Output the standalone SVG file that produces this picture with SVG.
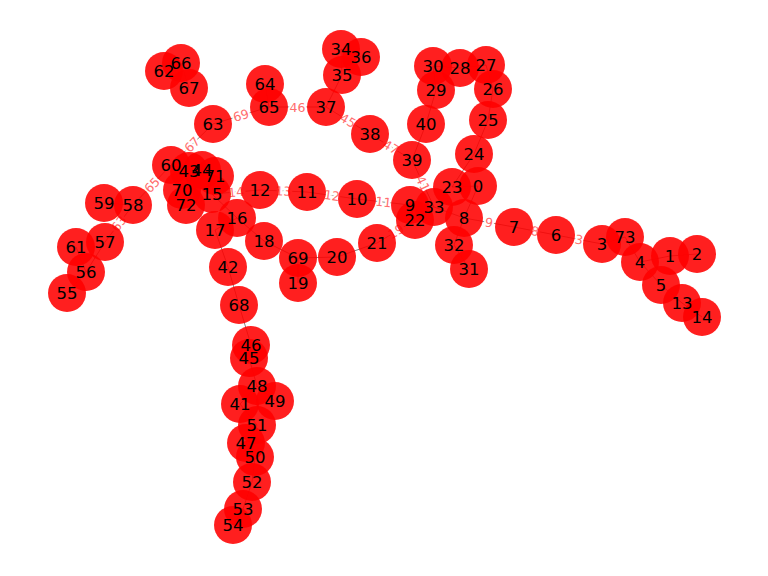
<svg xmlns="http://www.w3.org/2000/svg" width="768" height="576" viewBox="0 0 768 576">
<style>
.e{stroke:#000;stroke-opacity:0.5;stroke-width:1;fill:none}
.el{font-family:"DejaVu Sans",sans-serif;font-size:12.5px;fill:#ff6e6e;text-anchor:middle;dominant-baseline:central;stroke:#fff;stroke-width:4;paint-order:stroke}
.n circle{fill:#ff0000;fill-opacity:0.88}
.nl text{font-family:"DejaVu Sans",sans-serif;font-size:16.5px;fill:#000;text-anchor:middle;dominant-baseline:central}
</style>
<rect width="768" height="576" fill="#fff"/>
<g id="edges">
<line class="e" x1="702" y1="317" x2="682" y2="303"/>
<line class="e" x1="682" y1="303" x2="661" y2="285"/>
<line class="e" x1="661" y1="285" x2="640" y2="262"/>
<line class="e" x1="640" y1="262" x2="670" y2="256"/>
<line class="e" x1="670" y1="256" x2="697" y2="254"/>
<line class="e" x1="640" y1="262" x2="625" y2="237"/>
<line class="e" x1="625" y1="237" x2="602" y2="244"/>
<line class="e" x1="602" y1="244" x2="556" y2="235"/>
<line class="e" x1="556" y1="235" x2="514" y2="227"/>
<line class="e" x1="514" y1="227" x2="464" y2="218"/>
<line class="e" x1="464" y1="218" x2="434" y2="207"/>
<line class="e" x1="464" y1="218" x2="454" y2="245"/>
<line class="e" x1="454" y1="245" x2="469" y2="269"/>
<line class="e" x1="464" y1="218" x2="478" y2="186"/>
<line class="e" x1="478" y1="186" x2="452" y2="187"/>
<line class="e" x1="452" y1="187" x2="474" y2="154"/>
<line class="e" x1="474" y1="154" x2="488" y2="120"/>
<line class="e" x1="488" y1="120" x2="493" y2="89"/>
<line class="e" x1="493" y1="89" x2="486" y2="65"/>
<line class="e" x1="486" y1="65" x2="460" y2="68"/>
<line class="e" x1="460" y1="68" x2="433" y2="66"/>
<line class="e" x1="433" y1="66" x2="436" y2="90"/>
<line class="e" x1="436" y1="90" x2="426" y2="124"/>
<line class="e" x1="426" y1="124" x2="412" y2="160"/>
<line class="e" x1="412" y1="160" x2="434" y2="207"/>
<line class="e" x1="412" y1="160" x2="370" y2="134"/>
<line class="e" x1="370" y1="134" x2="326" y2="107"/>
<line class="e" x1="326" y1="107" x2="342" y2="75"/>
<line class="e" x1="342" y1="75" x2="341" y2="49"/>
<line class="e" x1="341" y1="49" x2="361" y2="57"/>
<line class="e" x1="326" y1="107" x2="269" y2="107"/>
<line class="e" x1="269" y1="107" x2="265" y2="84"/>
<line class="e" x1="269" y1="107" x2="213" y2="124"/>
<line class="e" x1="189" y1="88" x2="181" y2="63"/>
<line class="e" x1="181" y1="63" x2="164" y2="71"/>
<line class="e" x1="213" y1="124" x2="171" y2="165"/>
<line class="e" x1="171" y1="165" x2="189" y2="171"/>
<line class="e" x1="189" y1="171" x2="202" y2="170"/>
<line class="e" x1="202" y1="170" x2="215" y2="176"/>
<line class="e" x1="215" y1="176" x2="212" y2="194"/>
<line class="e" x1="171" y1="165" x2="133" y2="205"/>
<line class="e" x1="171" y1="165" x2="182" y2="190"/>
<line class="e" x1="182" y1="190" x2="186" y2="205"/>
<line class="e" x1="133" y1="205" x2="104" y2="203"/>
<line class="e" x1="133" y1="205" x2="105" y2="242"/>
<line class="e" x1="105" y1="242" x2="86" y2="272"/>
<line class="e" x1="86" y1="272" x2="76" y2="247"/>
<line class="e" x1="86" y1="272" x2="67" y2="293"/>
<line class="e" x1="212" y1="194" x2="260" y2="190"/>
<line class="e" x1="260" y1="190" x2="307" y2="192"/>
<line class="e" x1="307" y1="192" x2="357" y2="199"/>
<line class="e" x1="357" y1="199" x2="410" y2="205"/>
<line class="e" x1="410" y1="205" x2="434" y2="207"/>
<line class="e" x1="410" y1="205" x2="415" y2="220"/>
<line class="e" x1="415" y1="220" x2="377" y2="243"/>
<line class="e" x1="377" y1="243" x2="337" y2="257"/>
<line class="e" x1="337" y1="257" x2="298" y2="258"/>
<line class="e" x1="298" y1="258" x2="298" y2="283"/>
<line class="e" x1="298" y1="258" x2="264" y2="241"/>
<line class="e" x1="264" y1="241" x2="237" y2="218"/>
<line class="e" x1="237" y1="218" x2="212" y2="194"/>
<line class="e" x1="237" y1="218" x2="215" y2="230"/>
<line class="e" x1="215" y1="230" x2="228" y2="267"/>
<line class="e" x1="228" y1="267" x2="239" y2="305"/>
<line class="e" x1="239" y1="305" x2="251" y2="345"/>
<line class="e" x1="251" y1="345" x2="249" y2="358"/>
<line class="e" x1="249" y1="358" x2="257" y2="386"/>
<line class="e" x1="257" y1="386" x2="275" y2="401"/>
<line class="e" x1="257" y1="386" x2="240" y2="404"/>
<line class="e" x1="240" y1="404" x2="257" y2="425"/>
<line class="e" x1="257" y1="425" x2="246" y2="443"/>
<line class="e" x1="246" y1="443" x2="255" y2="457"/>
<line class="e" x1="255" y1="457" x2="252" y2="482"/>
<line class="e" x1="252" y1="482" x2="243" y2="509"/>
<line class="e" x1="243" y1="509" x2="233" y2="525"/>
</g>
<g id="edge-labels">
<text class="el" transform="translate(241,115.5) rotate(-16.9)">69</text>
<text class="el" transform="translate(297.5,107)">46</text>
<text class="el" transform="translate(348,120.5) rotate(31.5)">45</text>
<text class="el" transform="translate(391,147) rotate(31.8)">47</text>
<text class="el" transform="translate(423,183.5) rotate(65)">41</text>
<text class="el" transform="translate(192,144.5) rotate(-45.7)">67</text>
<text class="el" transform="translate(152,185) rotate(-46)">65</text>
<text class="el" transform="translate(119,223.5) rotate(-53)">63</text>
<text class="el" transform="translate(236,192) rotate(-5)">14</text>
<text class="el" transform="translate(283.5,191) rotate(2.5)">13</text>
<text class="el" transform="translate(332,195.5) rotate(8)">12</text>
<text class="el" transform="translate(383.5,202) rotate(6.5)">11</text>
<text class="el" transform="translate(489,222.5) rotate(10.2)">9</text>
<text class="el" transform="translate(535,231) rotate(10.8)">8</text>
<text class="el" transform="translate(579,239.5) rotate(11)">3</text>
<text class="el" transform="translate(396,231.5) rotate(-31)">19</text>
</g>
<g id="nodes" class="n">
<g id="n0"><circle cx="478" cy="186" r="19"/></g>
<g id="n1"><circle cx="670" cy="256" r="19"/></g>
<g id="n2"><circle cx="697" cy="254" r="19"/></g>
<g id="n3"><circle cx="602" cy="244" r="19"/></g>
<g id="n4"><circle cx="640" cy="262" r="19"/></g>
<g id="n5"><circle cx="661" cy="285" r="19"/></g>
<g id="n6"><circle cx="556" cy="235" r="19"/></g>
<g id="n7"><circle cx="514" cy="227" r="19"/></g>
<g id="n8"><circle cx="464" cy="218" r="19"/></g>
<g id="n9"><circle cx="410" cy="205" r="19"/></g>
<g id="n10"><circle cx="357" cy="199" r="19"/></g>
<g id="n11"><circle cx="307" cy="192" r="19"/></g>
<g id="n12"><circle cx="260" cy="190" r="19"/></g>
<g id="n13"><circle cx="682" cy="303" r="19"/></g>
<g id="n14"><circle cx="702" cy="317" r="19"/></g>
<g id="n15"><circle cx="212" cy="194" r="19"/></g>
<g id="n16"><circle cx="237" cy="218" r="19"/></g>
<g id="n17"><circle cx="215" cy="230" r="19"/></g>
<g id="n18"><circle cx="264" cy="241" r="19"/></g>
<g id="n19"><circle cx="298" cy="283" r="19"/></g>
<g id="n20"><circle cx="337" cy="257" r="19"/></g>
<g id="n21"><circle cx="377" cy="243" r="19"/></g>
<g id="n22"><circle cx="415" cy="220" r="19"/></g>
<g id="n23"><circle cx="452" cy="187" r="19"/></g>
<g id="n24"><circle cx="474" cy="154" r="19"/></g>
<g id="n25"><circle cx="488" cy="120" r="19"/></g>
<g id="n26"><circle cx="493" cy="89" r="19"/></g>
<g id="n27"><circle cx="486" cy="65" r="19"/></g>
<g id="n28"><circle cx="460" cy="68" r="19"/></g>
<g id="n29"><circle cx="436" cy="90" r="19"/></g>
<g id="n30"><circle cx="433" cy="66" r="19"/></g>
<g id="n31"><circle cx="469" cy="269" r="19"/></g>
<g id="n32"><circle cx="454" cy="245" r="19"/></g>
<g id="n33"><circle cx="434" cy="207" r="19"/></g>
<g id="n34"><circle cx="341" cy="49" r="19"/></g>
<g id="n35"><circle cx="342" cy="75" r="19"/></g>
<g id="n36"><circle cx="361" cy="57" r="19"/></g>
<g id="n37"><circle cx="326" cy="107" r="19"/></g>
<g id="n38"><circle cx="370" cy="134" r="19"/></g>
<g id="n39"><circle cx="412" cy="160" r="19"/></g>
<g id="n40"><circle cx="426" cy="124" r="19"/></g>
<g id="n41"><circle cx="240" cy="404" r="19"/></g>
<g id="n42"><circle cx="228" cy="267" r="19"/></g>
<g id="n43"><circle cx="189" cy="171" r="19"/></g>
<g id="n44"><circle cx="202" cy="170" r="19"/></g>
<g id="n45"><circle cx="249" cy="358" r="19"/></g>
<g id="n46"><circle cx="251" cy="345" r="19"/></g>
<g id="n47"><circle cx="246" cy="443" r="19"/></g>
<g id="n48"><circle cx="257" cy="386" r="19"/></g>
<g id="n49"><circle cx="275" cy="401" r="19"/></g>
<g id="n50"><circle cx="255" cy="457" r="19"/></g>
<g id="n51"><circle cx="257" cy="425" r="19"/></g>
<g id="n52"><circle cx="252" cy="482" r="19"/></g>
<g id="n53"><circle cx="243" cy="509" r="19"/></g>
<g id="n54"><circle cx="233" cy="525" r="19"/></g>
<g id="n55"><circle cx="67" cy="293" r="19"/></g>
<g id="n56"><circle cx="86" cy="272" r="19"/></g>
<g id="n57"><circle cx="105" cy="242" r="19"/></g>
<g id="n58"><circle cx="133" cy="205" r="19"/></g>
<g id="n59"><circle cx="104" cy="203" r="19"/></g>
<g id="n60"><circle cx="171" cy="165" r="19"/></g>
<g id="n61"><circle cx="76" cy="247" r="19"/></g>
<g id="n62"><circle cx="164" cy="71" r="19"/></g>
<g id="n63"><circle cx="213" cy="124" r="19"/></g>
<g id="n64"><circle cx="265" cy="84" r="19"/></g>
<g id="n65"><circle cx="269" cy="107" r="19"/></g>
<g id="n66"><circle cx="181" cy="63" r="19"/></g>
<g id="n67"><circle cx="189" cy="88" r="19"/></g>
<g id="n68"><circle cx="239" cy="305" r="19"/></g>
<g id="n69"><circle cx="298" cy="258" r="19"/></g>
<g id="n70"><circle cx="182" cy="190" r="19"/></g>
<g id="n71"><circle cx="215" cy="176" r="19"/></g>
<g id="n72"><circle cx="186" cy="205" r="19"/></g>
<g id="n73"><circle cx="625" cy="237" r="19"/></g>
</g>
<g id="node-labels" class="nl">
<text x="478" y="186">0</text>
<text x="670" y="256">1</text>
<text x="697" y="254">2</text>
<text x="602" y="244">3</text>
<text x="640" y="262">4</text>
<text x="661" y="285">5</text>
<text x="556" y="235">6</text>
<text x="514" y="227">7</text>
<text x="464" y="218">8</text>
<text x="410" y="205">9</text>
<text x="357" y="199">10</text>
<text x="307" y="192">11</text>
<text x="260" y="190">12</text>
<text x="682" y="303">13</text>
<text x="702" y="317">14</text>
<text x="212" y="194">15</text>
<text x="237" y="218">16</text>
<text x="215" y="230">17</text>
<text x="264" y="241">18</text>
<text x="298" y="283">19</text>
<text x="337" y="257">20</text>
<text x="377" y="243">21</text>
<text x="415" y="220">22</text>
<text x="452" y="187">23</text>
<text x="474" y="154">24</text>
<text x="488" y="120">25</text>
<text x="493" y="89">26</text>
<text x="486" y="65">27</text>
<text x="460" y="68">28</text>
<text x="436" y="90">29</text>
<text x="433" y="66">30</text>
<text x="469" y="269">31</text>
<text x="454" y="245">32</text>
<text x="434" y="207">33</text>
<text x="341" y="49">34</text>
<text x="342" y="75">35</text>
<text x="361" y="57">36</text>
<text x="326" y="107">37</text>
<text x="370" y="134">38</text>
<text x="412" y="160">39</text>
<text x="426" y="124">40</text>
<text x="240" y="404">41</text>
<text x="228" y="267">42</text>
<text x="189" y="171">43</text>
<text x="202" y="170">44</text>
<text x="249" y="358">45</text>
<text x="251" y="345">46</text>
<text x="246" y="443">47</text>
<text x="257" y="386">48</text>
<text x="275" y="401">49</text>
<text x="255" y="457">50</text>
<text x="257" y="425">51</text>
<text x="252" y="482">52</text>
<text x="243" y="509">53</text>
<text x="233" y="525">54</text>
<text x="67" y="293">55</text>
<text x="86" y="272">56</text>
<text x="105" y="242">57</text>
<text x="133" y="205">58</text>
<text x="104" y="203">59</text>
<text x="171" y="165">60</text>
<text x="76" y="247">61</text>
<text x="164" y="71">62</text>
<text x="213" y="124">63</text>
<text x="265" y="84">64</text>
<text x="269" y="107">65</text>
<text x="181" y="63">66</text>
<text x="189" y="88">67</text>
<text x="239" y="305">68</text>
<text x="298" y="258">69</text>
<text x="182" y="190">70</text>
<text x="215" y="176">71</text>
<text x="186" y="205">72</text>
<text x="625" y="237">73</text>
</g>
</svg>
